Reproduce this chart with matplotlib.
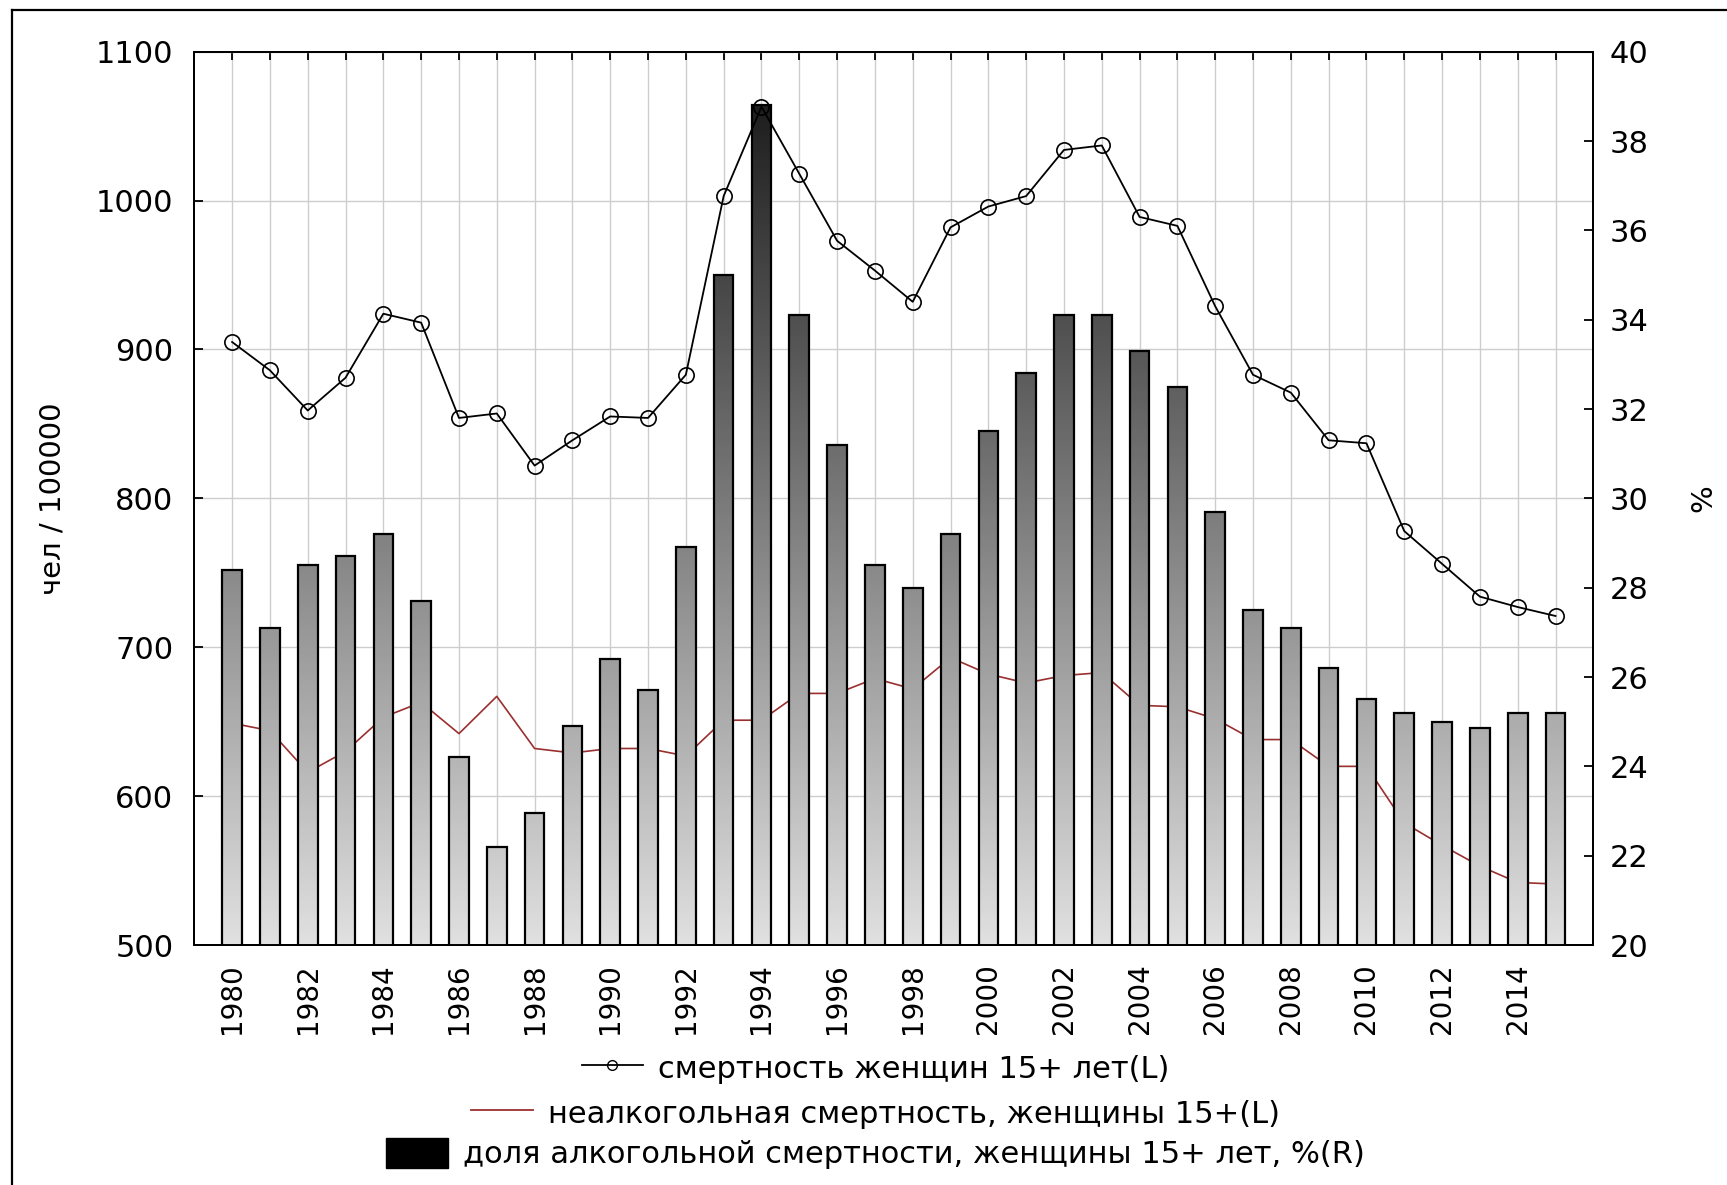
import numpy as np
import matplotlib
matplotlib.use("Agg")
import matplotlib.pyplot as plt
from matplotlib.colors import LinearSegmentedColormap
from matplotlib.lines import Line2D
from matplotlib.patches import Patch

# годы
years = list(range(1980, 2016))

# смертность женщин 15+ (левая ось)
total = [905, 886, 859, 881, 924, 918, 854, 857, 822, 839,
         855, 854, 883, 1003, 1063, 1018, 973, 953, 932, 982,
         996, 1003, 1034, 1037, 989, 983, 929, 883, 871, 839,
         837, 778, 756, 734, 727, 721]

# неалкогольная смертность (левая ось)
nonalc = [649, 644, 616, 630, 653, 663, 642, 667, 632, 629,
          632, 632, 627, 651, 651, 669, 669, 679, 672, 693,
          682, 676, 681, 683, 661, 660, 652, 638, 638, 620,
          620, 582, 567, 553, 542, 541]

# доля алкогольной смертности, % (правая ось)
share = [28.4, 27.1, 28.5, 28.7, 29.2, 27.7, 24.2, 22.2, 22.95, 24.9,
         26.4, 25.7, 28.9, 35.0, 38.8, 34.1, 31.2, 28.5, 28.0, 29.2,
         31.5, 32.8, 34.1, 34.1, 33.3, 32.5, 29.7, 27.5, 27.1, 26.2,
         25.5, 25.2, 25.0, 24.85, 25.2, 25.2]

left_ticks = [500, 600, 700, 800, 900, 1000, 1100]
right_ticks = list(range(20, 41, 2))
year_labels = [str(y) if y % 2 == 0 else "" for y in years]

lbl_total = "смертность женщин 15+ лет(L)"
lbl_nonalc = "неалкогольная смертность, женщины 15+(L)"
lbl_share = "доля алкогольной смертности, женщины 15+ лет, %(R)"

plt.rcParams["font.family"] = ["DejaVu Sans"]

fig = plt.figure(figsize=(17.27, 11.85), dpi=100)
ax = fig.add_axes([0.1125, 0.2025, 0.8101, 0.7539])
ax2 = ax.twinx()

# сетка
ax.set_axisbelow(True)
ax.grid(True, color="#cdcdcd", lw=1.0)

# неалкогольная смертность (под столбцами)
ax.plot(years, nonalc, color="#9a2f2f", lw=1.2, zorder=2)

# столбцы с градиентом
cmap = LinearSegmentedColormap.from_list("g", ["#e0e0e0", "#121212"])
grad = np.linspace(0, 1, 256).reshape(-1, 1)
bars = ax2.bar(years, share, width=0.52, bottom=0, facecolor="none",
               edgecolor="black", linewidth=1.6, zorder=3)
for b in bars:
    x0 = b.get_x()
    w = b.get_width()
    im = ax2.imshow(grad, cmap=cmap, aspect="auto", origin="lower",
                    extent=(x0, x0 + w, 20, 40), zorder=2,
                    interpolation="bilinear")
    im.set_clip_path(b)

# общая смертность поверх столбцов
ax2.plot(years, total, transform=ax.transData, color="black", lw=1.3,
         marker="o", ms=11, mfc="none", mec="black", mew=1.2, zorder=4)

ax.set_xlim(1979, 2016)
ax.set_ylim(500, 1100)
ax2.set_ylim(20, 40)
ax2.set_xlim(1979, 2016)

ax.set_xticks(years)
ax.set_xticklabels(year_labels, rotation=90)
ax.set_yticks(left_ticks)
ax2.set_yticks(right_ticks)

ax.tick_params(axis="x", direction="in", length=6, width=1.3, top=True,
               labelsize=20, pad=13)
ax.tick_params(axis="y", direction="in", length=6.5, width=1.3,
               labelsize=22, pad=15)
ax2.tick_params(axis="y", direction="in", length=6.5, width=1.3,
                labelsize=22, pad=12)

for a in (ax, ax2):
    for s in a.spines.values():
        s.set_linewidth(1.4)

ax.set_ylabel("чел / 100000", fontsize=21)
ax.yaxis.set_label_coords(-0.091, 0.5)
ax2.set_ylabel("%", fontsize=21)
ax2.yaxis.set_label_coords(1.069, 0.5)

# легенда: три строки, каждая по центру
h1 = Line2D([], [], color="black", lw=1.3, marker="o", ms=7,
            mfc="none", mec="black")
h2 = Line2D([], [], color="#9a2f2f", lw=1.3)
h3 = Patch(facecolor="black", edgecolor="black")
rows = [(h1, lbl_total, 0.0987), (h2, lbl_nonalc, 0.0605),
        (h3, lbl_share, 0.0262)]
for h, lbl, yy in rows:
    fig.legend([h], [lbl], loc="center", bbox_to_anchor=(0.507, yy),
               frameon=False, fontsize=22, handlelength=2.0,
               handleheight=1.1, handletextpad=0.5, borderpad=0,
               numpoints=1)

# рамка рисунка
fig.add_artist(Line2D([12 / 1727, 12 / 1727], [0, 1 - 10 / 1185],
                      transform=fig.transFigure, color="black", lw=1.6))
fig.add_artist(Line2D([12 / 1727, 1], [1 - 10 / 1185, 1 - 10 / 1185],
                      transform=fig.transFigure, color="black", lw=1.6))

fig.savefig("out.png", dpi=100)
